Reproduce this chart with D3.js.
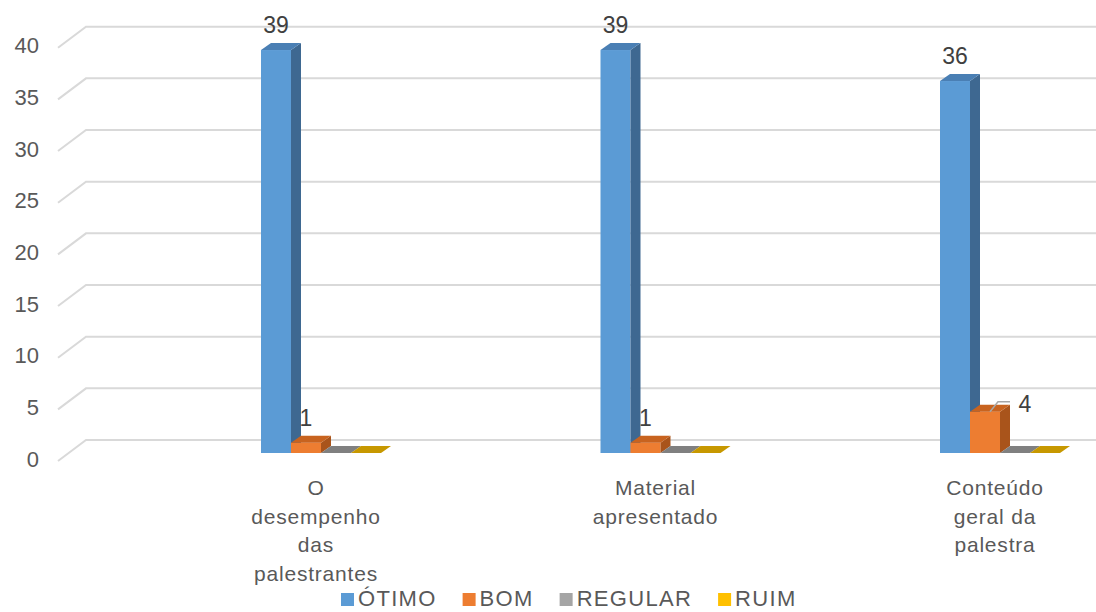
<!DOCTYPE html>
<html>
<head>
<meta charset="utf-8">
<script src="https://cdn.jsdelivr.net/npm/d3@7/dist/d3.min.js"></script>
<style>
  html, body { margin: 0; padding: 0; background: #fff; }
  svg { display: block; font-family: "Liberation Sans", Arial, sans-serif; }
</style>
</head>
<body>
<svg id="chart" width="1096" height="612"></svg>
<script>
// ---- data ----
const categories = ["O desempenho das palestrantes", "Material apresentado", "Conteúdo geral da palestra"];
const categoryLines = [["O", "desempenho", "das", "palestrantes"], ["Material", "apresentado"], ["Conteúdo", "geral da", "palestra"]];
const seriesNames = ["ÓTIMO", "BOM", "REGULAR", "RUIM"];
const otimo = [39, 39, 36];
const bom = [1, 1, 4];
const regular = [0, 0, 0];
const ruim = [0, 0, 0];
const yTicks = [0, 5, 10, 15, 20, 25, 30, 35, 40];

const seriesValues = [otimo, bom, regular, ruim];
const frontColors = ["#5B9BD5", "#ED7D31", "#A5A5A5", "#FFC000"];
const topColors   = ["#4A7FB4", "#C8631F", "#808080", "#C79800"];
const sideColors  = ["#3E6891", "#A9541B", "#6E6E6E", "#A98000"];

const svg = d3.select("#chart");
const textColor = "#595959";

const x = d3.scalePoint().domain(categories).range([316, 995]);
const inner = d3.scaleBand().domain(seriesNames).range([-55, 65]).padding(0);
const y = d3.scaleLinear().domain([0, 40]).range([453, 453 - 413.3]);

const bw = inner.bandwidth();
const dx = 10, dy = -7;

// ---- gridlines (3D back wall + floor edge) ----
const grid = svg.append("g");
yTicks.forEach(v => {
  const yf = y(v) + 8, yb = y(v) - 13;
  grid.append("path")
    .attr("d", `M58,${yf} L86,${yb} L1096,${yb}`)
    .attr("fill", "none")
    .attr("stroke", "#D9D9D9")
    .attr("stroke-width", 2);
});

// y tick labels
svg.append("g").selectAll("text").data(yTicks).join("text")
  .attr("x", 39)
  .attr("y", d => y(d) + 6)
  .attr("text-anchor", "end")
  .attr("dominant-baseline", "central")
  .attr("font-size", 22)
  .attr("fill", textColor)
  .text(d => d);

// ---- bars ----
const bars = svg.append("g");
const base = y(0);
categories.forEach((c, ci) => {
  seriesNames.forEach((s, si) => {
    const v = seriesValues[si][ci];
    const x0 = x(c) + inner(s);
    const yt = y(v);
    const g = bars.append("g");
    if (v > 0) {
      g.append("rect").attr("x", x0).attr("y", yt).attr("width", bw).attr("height", base - yt)
        .attr("fill", frontColors[si]);
      g.append("path")
        .attr("d", `M${x0 + bw},${yt} L${x0 + bw + dx},${yt + dy} L${x0 + bw + dx},${base + dy} L${x0 + bw},${base} Z`)
        .attr("fill", sideColors[si]);
    }
    g.append("path")
      .attr("d", `M${x0},${yt} L${x0 + dx},${yt + dy} L${x0 + bw + dx},${yt + dy} L${x0 + bw},${yt} Z`)
      .attr("fill", topColors[si]);
  });
});

// ---- value labels ----
const labels = svg.append("g");
categories.forEach((c, ci) => {
  [0, 1].forEach(si => {
    const v = seriesValues[si][ci];
    const x0 = x(c) + inner(seriesNames[si]);
    const yt = y(v);
    if (si === 1 && v > 1) {
      labels.append("path")
        .attr("d", `M${x0 + 20},${yt} L${x0 + 28},${yt - 10} L${x0 + 40},${yt - 10}`)
        .attr("fill", "none").attr("stroke", "#A6A6A6").attr("stroke-width", 1.5);
      labels.append("text").attr("x", x0 + 55).attr("y", yt)
        .attr("text-anchor", "middle").attr("font-size", 23).attr("fill", "#404040").text(v);
    } else {
      labels.append("text").attr("x", x0 + bw / 2).attr("y", yt - 17)
        .attr("text-anchor", "middle").attr("font-size", 23).attr("fill", "#404040").text(v);
    }
  });
});

// ---- category labels ----
const cat = svg.append("g");
categories.forEach((c, ci) => {
  categoryLines[ci].forEach((line, li) => {
    cat.append("text")
      .attr("x", x(c))
      .attr("y", 495 + li * 28.5)
      .attr("text-anchor", "middle")
      .attr("font-size", 21)
      .attr("letter-spacing", 0.8)
      .attr("fill", textColor)
      .text(line);
  });
});

// ---- legend ----
const legend = svg.append("g");
let lx = 341;
seriesNames.forEach((s, si) => {
  legend.append("rect").attr("x", lx).attr("y", 593).attr("width", 13).attr("height", 13).attr("fill", frontColors[si]);
  const t = legend.append("text").attr("x", lx + 17).attr("y", 606)
    .attr("font-size", 22).attr("letter-spacing", 1.3).attr("fill", textColor).text(s);
  const w = t.node().getComputedTextLength();
  lx = lx + 17 + w + 26;
});
</script>
</body>
</html>
